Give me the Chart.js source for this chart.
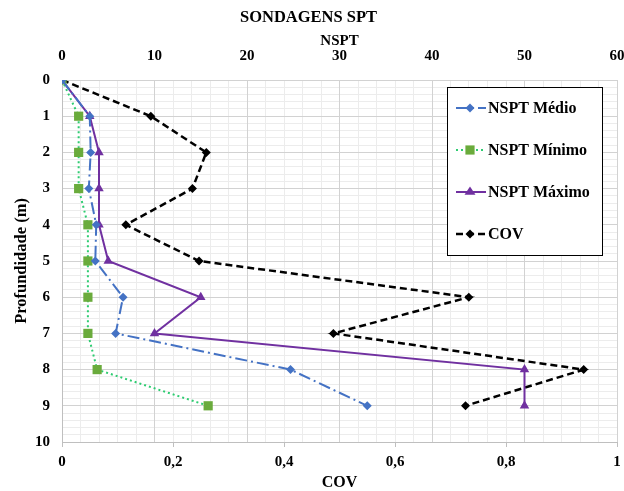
<!DOCTYPE html>
<html>
<head>
<meta charset="utf-8">
<script src="https://cdn.jsdelivr.net/npm/chart.js@4/dist/chart.umd.min.js"></script>
<style>
  html, body { margin: 0; padding: 0; background: #fff; }
  #wrap { width: 624px; height: 491px; }
</style>
</head>
<body>
<div id="wrap"><canvas id="c" width="624" height="491"></canvas></div>
<script>
// ---- data ----
const depths = [0, 1, 2, 3, 4, 5, 6, 7, 8, 9];
const nsptMedio = [0, 3.0, 3.1, 2.9, 3.7, 3.6, 6.6, 5.8, 24.7, 33.0];
const nsptMinimo = [0, 1.8, 1.8, 1.8, 2.8, 2.8, 2.8, 2.8, 3.8, 15.8];
const nsptMaximo = [0, 3, 4, 4, 4, 5, 15, 10, 50, 50];
const cov = [0, 0.16, 0.26, 0.235, 0.115, 0.247, 0.733, 0.489, 0.94, 0.727];
const seriesNames = ['NSPT Médio', 'NSPT Mínimo', 'NSPT Máximo', 'COV'];
const covTickLabels = ['0', '0,2', '0,4', '0,6', '0,8', '1'];

const FONT = 'Liberation Serif';
const MAJOR = '#d2d2d2';
const MINOR = '#ececec';
const AXIS = '#bfbfbf';

function pts(values) { return values.map((v, i) => ({ x: v, y: depths[i] })); }

function drawMarker(ctx, style, x, y, r, color) {
  ctx.save();
  ctx.fillStyle = color;
  ctx.strokeStyle = color;
  ctx.setLineDash([]);
  ctx.beginPath();
  if (style === 'rect') {
    const s = Math.SQRT1_2 * r;
    ctx.rect(x - s, y - s, 2 * s, 2 * s);
  } else if (style === 'rectRot') {
    ctx.moveTo(x, y - r); ctx.lineTo(x + r, y); ctx.lineTo(x, y + r); ctx.lineTo(x - r, y); ctx.closePath();
  } else if (style === 'triangle') {
    const h = r * 1.5, w = r * Math.sqrt(3) / 2 * 1.15;
    ctx.moveTo(x, y - r); ctx.lineTo(x + w, y + r / 2); ctx.lineTo(x - w, y + r / 2); ctx.closePath();
  }
  ctx.fill();
  ctx.restore();
}

const legendBox = {
  id: 'legendBox',
  afterDraw(chart) {
    const ctx = chart.ctx;
    const left = 447.5, top = 87.5, w = 155, h = 168;
    ctx.save();
    ctx.fillStyle = '#fff';
    ctx.fillRect(left, top, w, h);
    ctx.strokeStyle = '#000';
    ctx.lineWidth = 1;
    ctx.strokeRect(left, top, w, h);
    chart.data.datasets.forEach((ds, i) => {
      const y = top + 20.5 + i * 42;
      ctx.save();
      ctx.strokeStyle = ds.borderColor;
      ctx.lineWidth = ds.borderWidth;
      ctx.setLineDash(ds.borderDash || []);
      ctx.beginPath();
      ctx.moveTo(456, y); ctx.lineTo(486, y);
      ctx.stroke();
      ctx.restore();
      drawMarker(ctx, ds.pointStyle, 470, y, ds.pointRadius, ds.pointBackgroundColor);
      ctx.fillStyle = '#000';
      ctx.font = 'bold 16px "' + FONT + '"';
      ctx.textBaseline = 'middle';
      ctx.textAlign = 'left';
      ctx.fillText(ds.label, 488, y + 1);
    });
    ctx.restore();
  }
};

function noPad(scale) { scale.paddingLeft = 0; scale.paddingRight = 0; scale.paddingTop = 0; scale.paddingBottom = 0; }

new Chart(document.getElementById('c'), {
  type: 'scatter',
  data: {
    datasets: [
      {
        label: seriesNames[0], data: pts(nsptMedio), xAxisID: 'xTop', yAxisID: 'y',
        showLine: true, borderColor: '#4472c4', borderWidth: 2, borderDash: [12, 4, 2, 4],
        pointStyle: 'rectRot', pointRadius: 4.5, pointBackgroundColor: '#4472c4', pointBorderWidth: 0
      },
      {
        label: seriesNames[1], data: pts(nsptMinimo), xAxisID: 'xTop', yAxisID: 'y',
        showLine: true, borderColor: '#2ecc71', borderWidth: 2, borderDash: [2, 3],
        pointStyle: 'rect', pointRadius: 6.5, pointBackgroundColor: '#6aab3c', pointBorderWidth: 0
      },
      {
        label: seriesNames[2], data: pts(nsptMaximo), xAxisID: 'xTop', yAxisID: 'y',
        showLine: true, borderColor: '#7030a0', borderWidth: 2,
        pointStyle: 'triangle', pointRadius: 5.5, pointBackgroundColor: '#7030a0', pointBorderWidth: 0
      },
      {
        label: seriesNames[3], data: pts(cov), xAxisID: 'xCov', yAxisID: 'y',
        showLine: true, borderColor: '#000000', borderWidth: 2.5, borderDash: [7, 4],
        pointStyle: 'rectRot', pointRadius: 4.5, pointBackgroundColor: '#000000', pointBorderWidth: 0
      }
    ]
  },
  options: {
    responsive: false,
    animation: false,
    layout: { padding: { left: 0, right: 7, top: 0, bottom: 0 } },
    plugins: {
      legend: { display: false },
      tooltip: { enabled: false },
      title: {
        display: true, text: 'SONDAGENS SPT', color: '#000',
        font: { family: FONT, size: 16.5, weight: 'bold' },
        padding: { top: 8, bottom: 0 }
      }
    },
    scales: {
      xMinor: {
        type: 'linear', position: 'top', min: 0, max: 60,
        ticks: { display: false, stepSize: 2 },
        grid: { color: (c) => (c.index % 5 === 0 ? 'rgba(0,0,0,0)' : MINOR), drawTicks: false },
        border: { display: false },
        afterFit(s) { s.height = 0; noPad(s); }
      },
      yMinor: {
        type: 'linear', position: 'left', min: 0, max: 10, reverse: true,
        ticks: { display: false, stepSize: 0.2 },
        grid: { color: (c) => (c.index % 5 === 0 ? 'rgba(0,0,0,0)' : MINOR), drawTicks: false },
        border: { display: false },
        afterFit(s) { s.width = 0; noPad(s); }
      },
      xTop: {
        type: 'linear', position: 'top', min: 0, max: 60,
        ticks: { stepSize: 10, padding: 15, color: '#000', font: { family: FONT, size: 15, weight: 'bold' } },
        grid: { color: MAJOR, drawTicks: false },
        border: { display: false },
        title: { display: true, text: 'NSPT', color: '#000', padding: { top: 4, bottom: 0 },
          font: { family: FONT, size: 15, weight: 'bold' } },
        afterFit(s) { s.height = 52.2; noPad(s); }
      },
      xCov: {
        type: 'linear', position: 'bottom', min: 0, max: 1,
        ticks: { stepSize: 0.2, padding: 6, color: '#000', font: { family: FONT, size: 15, weight: 'bold' },
          callback: (v, i) => covTickLabels[i] },
        grid: { drawOnChartArea: false, drawTicks: true, tickLength: 5, color: AXIS },
        border: { display: true, color: AXIS },
        title: { display: true, text: 'COV', color: '#000', padding: { top: 0, bottom: 0 },
          font: { family: FONT, size: 16, weight: 'bold', lineHeight: 1 } },
        afterFit(s) { s.height = 49; noPad(s); }
      },
      y: {
        type: 'linear', position: 'left', min: 0, max: 10, reverse: true,
        ticks: { stepSize: 1, padding: 12, color: '#000', font: { family: FONT, size: 15, weight: 'bold' } },
        grid: { color: MAJOR, drawTicks: false },
        border: { display: true, color: AXIS },
        title: { display: true, text: 'Profundidade (m)', color: '#000', padding: { top: 12, bottom: 0 },
          font: { family: FONT, size: 16.5, weight: 'bold' } },
        afterFit(s) { s.width = 62; noPad(s); }
      }
    }
  },
  plugins: [legendBox]
});
</script>
</body>
</html>
